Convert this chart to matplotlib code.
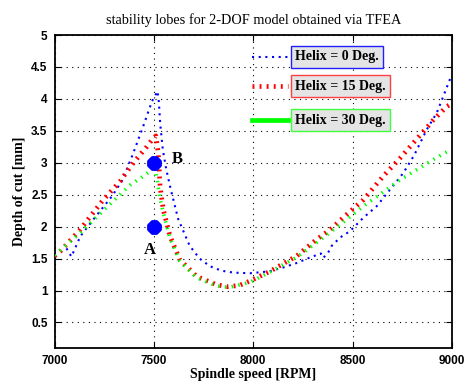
import matplotlib
matplotlib.use("Agg")
import matplotlib.pyplot as plt

# Stability lobe boundaries (spindle speed in RPM, depth of cut in mm)
rpm_h0 = [7060, 7085, 7130, 7210, 7290, 7340, 7390, 7445, 7490, 7518,
          7525, 7532, 7545, 7562, 7582, 7622, 7680, 7730, 7782, 7840,
          7900, 7984, 8080, 8150, 8218, 8280, 8340, 8352, 8376, 8395,
          8437, 8487, 8554, 8621, 8688, 8755, 8810, 8873, 8923, 8956, 8995]
depth_h0 = [1.66, 1.53, 1.85, 2.17, 2.48, 2.72, 3.10, 3.56, 3.96, 4.12,
            3.95, 3.60, 3.20, 2.90, 2.62, 2.12, 1.70, 1.50, 1.38, 1.31,
            1.28, 1.27, 1.30, 1.36, 1.43, 1.51, 1.58, 1.51, 1.59, 1.70,
            1.83, 1.93, 2.14, 2.32, 2.58, 2.84, 3.12, 3.52, 3.78, 4.04, 4.35]

rpm_h15 = [7000, 7028, 7128, 7245, 7330, 7397, 7464, 7495, 7510, 7522,
           7531, 7547, 7581, 7631, 7715, 7816, 7870, 7930, 7984, 8084,
           8218, 8319, 8386, 8470, 8554, 8654, 8738, 8805, 8856, 8906,
           8973, 8995]
depth_h15 = [1.54, 1.61, 1.95, 2.42, 2.71, 3.00, 3.25, 3.38, 3.42, 3.15,
             2.63, 2.27, 1.85, 1.48, 1.22, 1.09, 1.06, 1.08, 1.15, 1.30,
             1.54, 1.80, 1.95, 2.19, 2.42, 2.79, 3.07, 3.31, 3.49, 3.67,
             3.88, 3.92]

rpm_h30 = [7000, 7128, 7262, 7380, 7447, 7495, 7508, 7518, 7530, 7547,
           7581, 7631, 7715, 7816, 7880, 7984, 8084, 8218, 8319, 8386,
           8470, 8554, 8671, 8738, 8822, 8906, 8990]
depth_h30 = [1.55, 1.90, 2.30, 2.65, 2.79, 2.90, 2.86, 2.70, 2.45, 2.22,
             1.82, 1.46, 1.20, 1.07, 1.05, 1.13, 1.29, 1.52, 1.75, 1.91,
             2.11, 2.32, 2.58, 2.73, 2.89, 3.05, 3.20]

# Cutting test points
test_rpm = [7500, 7500]
test_depth = [3.0, 2.0]
test_names = ["B", "A"]

legend_labels = ["Helix = 0 Deg.", "Helix = 15 Deg.", "Helix = 30 Deg."]

x_ticks = [7000, 7500, 8000, 8500, 9000]
y_ticks = [0.5, 1, 1.5, 2, 2.5, 3, 3.5, 4, 4.5, 5]

serif = ["Liberation Serif", "DejaVu Serif"]
sans = ["Liberation Sans", "DejaVu Sans"]

fig = plt.figure(figsize=(4.66, 3.83), dpi=100)
fig.patch.set_facecolor("white")

ax = fig.add_axes([0.117, 0.0914, 0.853, 0.8172])

blue_style = dict(color=(0, 0, 1), linewidth=1.5, linestyle=(0, (1, 2.2)))
red_style = dict(color=(1, 0, 0), linewidth=3.4, linestyle=(0, (0.4, 1.1)))
green_style = dict(color=(0, 1, 0), linewidth=2.6, linestyle=(0, (0.4, 1.5)))

ax.plot(rpm_h0, depth_h0, zorder=3, **blue_style)
ax.plot(rpm_h15, depth_h15, zorder=3, **red_style)
ax.plot(rpm_h30, depth_h30, zorder=4, **green_style)

ax.plot(test_rpm, test_depth, linestyle="none", marker=(8, 2, 0),
        markersize=10, markeredgewidth=4, color=(0, 0, 1), zorder=5)
ax.annotate(test_names[0], (test_rpm[0], test_depth[0]), xytext=(13, 3),
            textcoords="offset points", ha="left", va="center",
            fontsize=12, weight="bold", family=serif)
ax.annotate(test_names[1], (test_rpm[1], test_depth[1]), xytext=(-3, -17),
            textcoords="offset points", ha="center", va="center",
            fontsize=12, weight="bold", family=serif)

ax.set_xlim(7000, 9000)
ax.set_ylim(0.1, 5)
ax.set_xticks(x_ticks)
ax.set_yticks(y_ticks)
ax.set_xticklabels([str(v) for v in x_ticks])
ax.set_yticklabels([("%g" % v) for v in y_ticks])
for lab in ax.get_xticklabels() + ax.get_yticklabels():
    lab.set_family(sans)
    lab.set_weight("bold")
    lab.set_fontsize(8.5)

ax.tick_params(direction="in", top=True, right=True, length=4, width=0.8, pad=5)
ax.grid(True, color="k", linestyle=(0, (1, 4)), linewidth=0.8)
for s in ax.spines.values():
    s.set_linewidth(1.3)

ax.set_title("stability lobes for 2-DOF model obtained via TFEA",
             family=serif, fontsize=10.3, pad=8)
ax.set_xlabel("Spindle speed [RPM]", family=serif, weight="bold",
              fontsize=10, labelpad=1)
ax.set_ylabel("Depth of cut [mm]", family=serif, weight="bold",
              fontsize=10, labelpad=4)

# legend drawn as line samples next to framed labels
styles = [blue_style, red_style, dict(color=(0, 1, 0), linewidth=3.4)]
edges = ["#2020ff", "#ff4040", "#40ff40"]
rows_y = [0.930, 0.837, 0.728]
for lbl, st, ec, yy in zip(legend_labels, styles, edges, rows_y):
    ax.plot([0.497, 0.587], [yy, yy], transform=ax.transAxes, zorder=6, **st)
    ax.text(0.606, yy, lbl, transform=ax.transAxes, ha="left", va="center",
            family=serif, weight="bold", fontsize=10, zorder=7,
            bbox=dict(boxstyle="square,pad=0.3", facecolor="#e4e4e4",
                      edgecolor=ec, linewidth=1.0))

fig.savefig("out.png", dpi=100)
